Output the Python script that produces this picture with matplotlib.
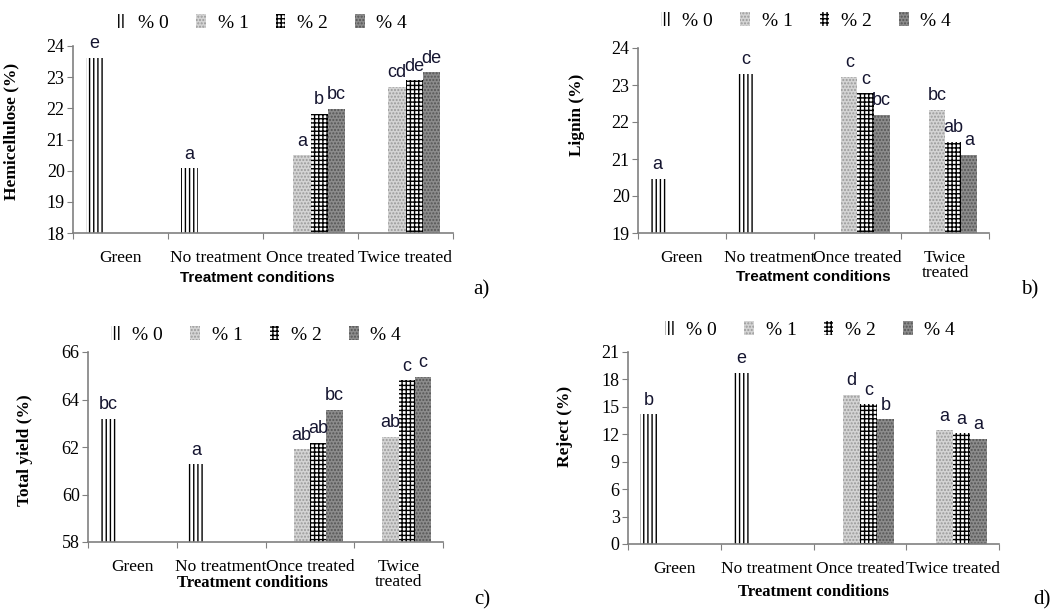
import numpy as np
import matplotlib
matplotlib.use("Agg")
import matplotlib.pyplot as plt
from matplotlib.patches import Patch

plt.rcParams['hatch.linewidth'] = 1.0

categories = ["Green", "No treatment", "Once treated", "Twice treated"]
categories_wrap = ["Green", "No treatment", "Once treated", "Twice\ntreated"]
series = ["% 0", "% 1", "% 2", "% 4"]
nan = np.nan

# values[series][category]
hemi = [[23.62, 20.08, nan, nan],
        [nan, nan, 20.50, 22.69],
        [nan, nan, 21.82, 22.90],
        [nan, nan, 21.98, 23.16]]
hemi_letters = [["e", "a", "", ""],
                ["", "", "a", "cd"],
                ["", "", "b", "de"],
                ["", "", "bc", "de"]]

lignin = [[20.47, 23.30, nan, nan],
          [nan, nan, 23.22, 22.33],
          [nan, nan, 22.78, 21.47],
          [nan, nan, 22.20, 21.11]]
lignin_letters = [["a", "c", "", ""],
                  ["", "", "c", "bc"],
                  ["", "", "c", "ab"],
                  ["", "", "bc", "a"]]

yield_ = [[63.20, 61.27, nan, nan],
          [nan, nan, 61.90, 62.42],
          [nan, nan, 62.18, 64.81],
          [nan, nan, 63.57, 64.95]]
yield_letters = [["bc", "a", "", ""],
                 ["", "", "ab", "ab"],
                 ["", "", "ab", "c"],
                 ["", "", "bc", "c"]]

reject = [[14.20, 18.75, nan, nan],
          [nan, nan, 16.35, 12.46],
          [nan, nan, 15.26, 12.10],
          [nan, nan, 13.63, 11.51]]
reject_letters = [["b", "e", "", ""],
                  ["", "", "d", "a"],
                  ["", "", "c", "a"],
                  ["", "", "b", "a"]]

styles = [dict(facecolor="white", edgecolor="black", hatch="||||"),
          dict(facecolor="#d4d4d4", edgecolor="#9a9a9a", hatch="....."),
          dict(facecolor="white", edgecolor="black", hatch="++++"),
          dict(facecolor="#8c8c8c", edgecolor="#555555", hatch=".....")]

SERIF = "Liberation Serif"
SANS = "Liberation Sans"

fig = plt.figure(figsize=(10.55, 6.1), dpi=100)
W, H = 1055, 610


def px_axes(l, r, t, b):
    return fig.add_axes([l / W, 1 - b / H, (r - l) / W, (b - t) / H])


def panel(rect, data, letters, ylim, yticks, ylabel, ylab_pos, xlabel_pos,
          xlabel_serif, catlabels, legend_xy, tag_xy, tag):
    ax = px_axes(*rect)
    w = 0.184
    x = np.arange(len(categories))
    for i, s in enumerate(series):
        pos = x + (i - 1.5) * w
        vals = np.array(data[i], dtype=float)
        ax.bar(pos, vals, width=w, linewidth=0, **styles[i])
        for xx, v, lab in zip(pos, vals, letters[i]):
            if lab and not np.isnan(v):
                ax.annotate(lab, (xx, v), xytext=(0, 4), textcoords="offset points",
                            ha="center", va="bottom", fontsize=13,
                            family=SANS, color="#151530")
    ax.set_xlim(-0.5, 3.5)
    ax.set_ylim(*ylim)
    ax.set_yticks(yticks)
    ax.set_yticklabels([str(t) for t in yticks], family=SERIF, fontsize=13)
    ax.set_xticks(np.arange(-0.5, 4.0, 1.0))
    ax.set_xticklabels([])
    ax.set_xticks(x, minor=True)
    ax.set_xticklabels(catlabels, minor=True, family=SERIF, fontsize=12.5,
                       linespacing=0.95)
    ax.tick_params(axis="x", which="minor", length=0, pad=12)
    ax.tick_params(axis="x", which="major", length=4, color="#808080", direction="out")
    ax.tick_params(axis="y", length=4, color="#808080", direction="out", pad=2)
    for sp in ["top", "right"]:
        ax.spines[sp].set_visible(False)
    for sp in ["left", "bottom"]:
        ax.spines[sp].set_color("#808080")
        ax.spines[sp].set_linewidth(1.2)
    ax.set_ylabel(ylabel, family=SERIF, fontweight="bold", fontsize=12.5)
    ax.yaxis.set_label_coords(*ylab_pos)
    if xlabel_serif:
        ax.text(*xlabel_pos, "Treatment conditions", transform=ax.transAxes,
                ha="center", va="center", family=SERIF, fontweight="bold", fontsize=12)
    else:
        ax.text(*xlabel_pos, "Treatment conditions", transform=ax.transAxes,
                ha="center", va="center", family=SANS, fontweight="bold", fontsize=11)
    handles = [Patch(linewidth=0, **styles[i]) for i in range(4)]
    fig.legend(handles, series, loc="center",
               bbox_to_anchor=(legend_xy[0] / W, 1 - legend_xy[1] / H),
               ncol=4, frameon=False, prop={"family": SERIF, "size": 14},
               handlelength=0.5, handleheight=0.7, handletextpad=0.6,
               columnspacing=1.4)
    fig.text(tag_xy[0] / W, 1 - tag_xy[1] / H, tag, family=SERIF, fontsize=15,
             ha="center", va="center")
    return ax


panel((73, 453, 46, 233), hemi, hemi_letters, (18, 24), [18, 19, 20, 21, 22, 23, 24],
      "Hemicellulose (%)", (-0.142, 0.545), (0.485, -0.24), False, categories,
      (262, 23), (481, 290), "a)")
panel((638, 989, 48, 233), lignin, lignin_letters, (19, 24), [19, 20, 21, 22, 23, 24],
      "Lignin (%)", (-0.151, 0.64), (0.5, -0.238), False, categories_wrap,
      (806, 21), (1030, 290), "b)")
panel((88, 443, 352, 542), yield_, yield_letters, (58, 66), [58, 60, 62, 64, 66],
      "Total yield (%)", (-0.155, 0.484), (0.462, -0.216), True, categories_wrap,
      (256, 335), (482, 600), "c)")
panel((628, 999, 352, 544), reject, reject_letters, (0, 21), [0, 3, 6, 9, 12, 15, 18, 21],
      "Reject (%)", (-0.148, 0.61), (0.501, -0.25), True, categories,
      (810, 330), (1042, 600), "d)")

fig.savefig("out.png", dpi=100)
